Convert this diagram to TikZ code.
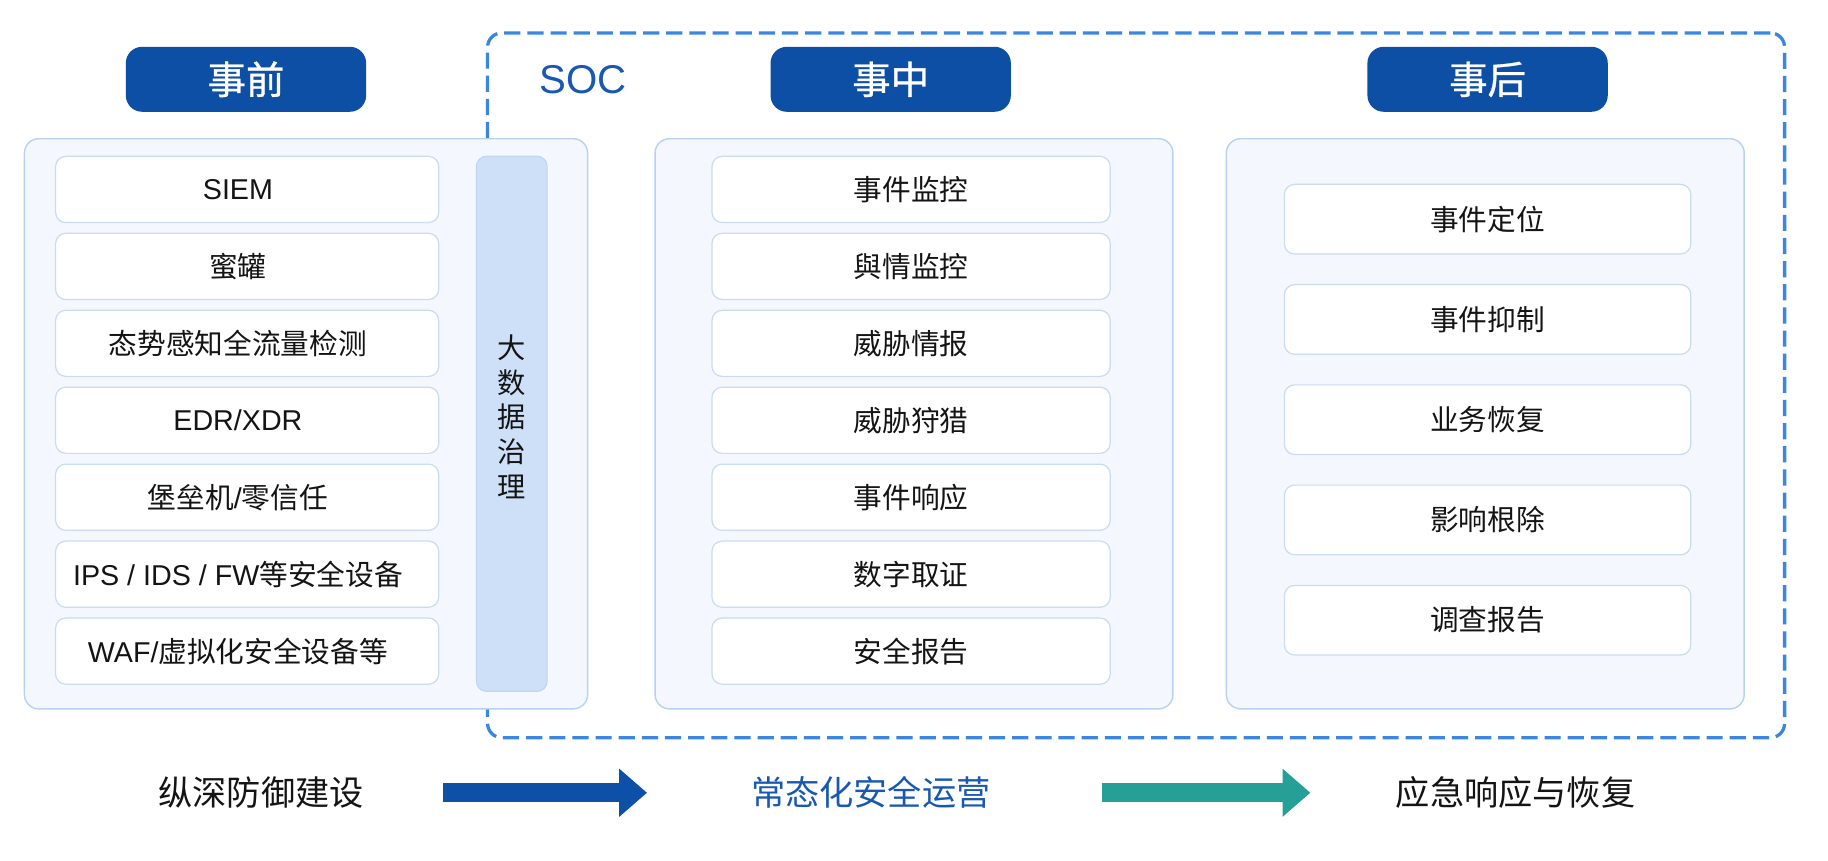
\documentclass[tikz,border=0pt]{standalone}
\usepackage{fontspec}
\setmainfont{Liberation Sans}
\newfontfamily\cjk{Noto Sans CJK SC}
\newfontfamily\cjkhdr[FakeBold=0.8]{Noto Sans CJK SC}
\usetikzlibrary{arrows.meta}
\newcommand\zh[1]{{\cjk #1}}
\def\U{0.5669pt}
\definecolor{hdr}{RGB}{14,79,166}
\definecolor{socblue}{RGB}{58,134,224}
\definecolor{soctext}{RGB}{24,88,178}
\definecolor{panelfill}{RGB}{244,248,254}
\definecolor{panelline}{RGB}{184,210,243}
\definecolor{itemline}{RGB}{204,219,240}
\definecolor{barfill}{RGB}{206,224,247}
\definecolor{barline}{RGB}{190,212,240}
\definecolor{ink}{RGB}{20,20,20}
\definecolor{arrblue}{RGB}{14,80,168}
\definecolor{arrteal}{RGB}{38,160,150}
\tikzset{
  hdrbox/.style={fill=hdr, rounded corners=8pt, minimum width=207*\U, minimum height=56*\U,
    inner sep=0pt, text=white, font=\cjkhdr\fontsize{18.8}{22}\selectfont},
  panel/.style={draw=panelline, fill=panelfill, rounded corners=7pt, line width=0.7pt,
    minimum height=491*\U, inner sep=0pt},
  item/.style={draw=itemline, fill=white, rounded corners=5pt, line width=0.6pt,
    minimum height=57*\U, inner sep=0pt, text=ink, font=\fontsize{14}{16}\selectfont},
  litem/.style={item, minimum width=330*\U, execute at end node={\kern9pt}},
  mitem/.style={item, minimum width=343*\U},
  ritem/.style={item, minimum width=350*\U, minimum height=60*\U},
  bottomlab/.style={font=\cjk\fontsize{16.7}{20}\selectfont, inner sep=0pt},
  bigarrow/.style={line width=16.5*\U, -{Triangle[length=24*\U, width=40*\U]}},
}
\begin{document}
\begin{tikzpicture}[x=0.02cm,y=-0.02cm]
\useasboundingbox[fill=white] (0,0) rectangle (1568,738);

% SOC dashed frame (behind panels)
\node[draw=socblue, dash pattern=on 7.9pt off 3.4pt, line width=1.6pt, rounded corners=7pt,
  minimum width=1117*\U, minimum height=607*\U, inner sep=0pt] (soc) at (974.5,330.5) {};
\node[text=soctext, font=\fontsize{19.6}{22}\selectfont, inner sep=0pt] (soclab) at (500,68) {SOC};

% headers
\node[hdrbox] (h1) at (211,68) {事前};
\node[hdrbox] (h2) at (764,68) {事中};
\node[hdrbox] (h3) at (1276,68) {事后};

% panels
\node[panel, minimum width=485*\U] (pl) at (262.5,363.5) {};
\node[panel, minimum width=446*\U] (pm) at (784,363.5) {};
\node[panel, minimum width=446*\U] (pr) at (1274,363.5) {};

% left items
\node[litem] (l1) at (212,162.5) {SIEM};
\node[litem] (l2) at (212,228.5) {\zh{蜜罐}};
\node[litem] (l3) at (212,294.5) {\zh{态势感知全流量检测}};
\node[litem] (l4) at (212,360.5) {EDR/XDR};
\node[litem] (l5) at (212,426.5) {\zh{堡垒机}/\zh{零信任}};
\node[litem] (l6) at (212,492.5) {IPS / IDS / FW\zh{等安全设备}};
\node[litem] (l7) at (212,558.5) {WAF/\zh{虚拟化安全设备等}};

% big data bar
\node[draw=barline, fill=barfill, rounded corners=5pt, line width=0.5pt,
  minimum width=61*\U, minimum height=461*\U, inner sep=0pt] (bar) at (439,363.5) {};
\node[align=center, text=ink, font=\cjk\fontsize{13.8}{17}\selectfont, inner sep=0pt] (bartext) at (439,357.5)
  {大\\数\\据\\治\\理};

% middle items
\node[mitem] (m1) at (781.5,162.5) {\zh{事件监控}};
\node[mitem] (m2) at (781.5,228.5) {\zh{與情监控}};
\node[mitem] (m3) at (781.5,294.5) {\zh{威胁情报}};
\node[mitem] (m4) at (781.5,360.5) {\zh{威胁狩猎}};
\node[mitem] (m5) at (781.5,426.5) {\zh{事件响应}};
\node[mitem] (m6) at (781.5,492.5) {\zh{数字取证}};
\node[mitem] (m7) at (781.5,558.5) {\zh{安全报告}};

% right items
\node[ritem] (r1) at (1276,188) {\zh{事件定位}};
\node[ritem] (r2) at (1276,274) {\zh{事件抑制}};
\node[ritem] (r3) at (1276,360) {\zh{业务恢复}};
\node[ritem] (r4) at (1276,446) {\zh{影响根除}};
\node[ritem] (r5) at (1276,532) {\zh{调查报告}};

% bottom flow
\node[bottomlab, text=ink] (b1) at (224,680) {纵深防御建设};
\node[bottomlab, text=soctext] (b2) at (747,680) {常态化安全运营};
\node[bottomlab, text=ink] (b3) at (1300,680) {应急响应与恢复};
\coordinate (a1s) at (380,680);
\coordinate (a1e) at (555,680);
\coordinate (a2s) at (945,680);
\coordinate (a2e) at (1124,680);
\draw[bigarrow, arrblue] (a1s) -- (a1e);
\draw[bigarrow, arrteal] (a2s) -- (a2e);
\end{tikzpicture}
\end{document}
